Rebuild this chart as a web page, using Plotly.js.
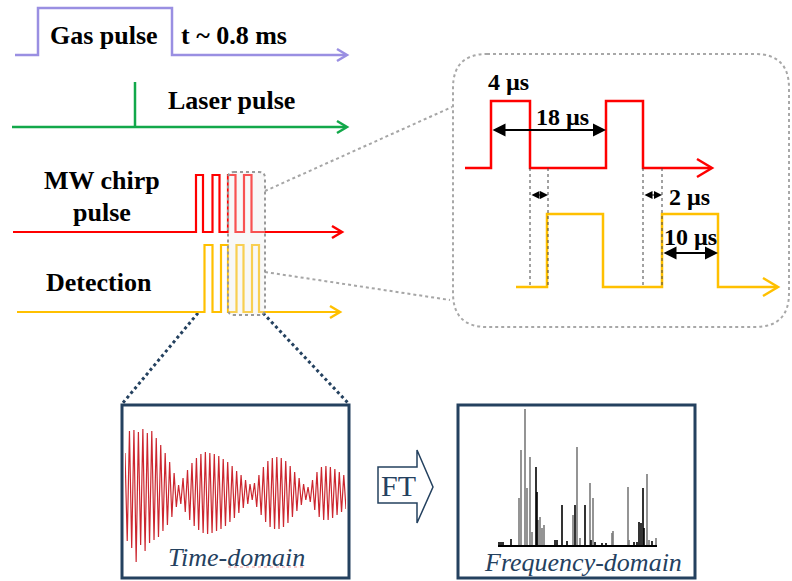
<!DOCTYPE html>
<html>
<head>
<meta charset="utf-8">
<script src="https://cdn.plot.ly/plotly-3.0.1.min.js"></script>
<style>html,body{margin:0;padding:0;background:#fff;}#chart{width:792px;height:581px;}</style>
</head>
<body>
<div id="chart"></div>
<script>
// ---------- DATA ----------
// Pulse-sequence schematic (schematic coordinates, x to the right, y downward)
const gasX = [15, 38, 38, 172, 172, 345];
const gasY = [55, 55, 8, 8, 55, 55];
const laserX = [12, 345];
const laserY = [127, 127];
const laserSpikeX = [135, 135];
const laserSpikeY = [127, 82];
const chirpX = [13, 196, 196, 203, 203, 212.5, 212.5, 219.5, 219.5, 228, 228, 235.5, 235.5, 244, 244, 251.5, 251.5, 340];
const chirpY = [232, 232, 175, 175, 232, 232, 175, 175, 232, 232, 175, 175, 232, 232, 175, 175, 232, 232];
const detX = [17, 204.5, 204.5, 212.5, 212.5, 221, 221, 228, 228, 236.5, 236.5, 243.5, 243.5, 252, 252, 259, 259, 338];
const detY = [312, 312, 245, 245, 312, 312, 245, 245, 312, 312, 245, 245, 312, 312, 245, 245, 312, 312];
// zoomed inset
const insetChirpX = [465, 491, 491, 530, 530, 606, 606, 643, 643, 710];
const insetChirpY = [168, 168, 101, 101, 168, 168, 101, 101, 168, 168];
const insetDetX = [516, 547, 547, 603, 603, 662, 662, 718, 718, 776];
const insetDetY = [287, 287, 214, 214, 287, 287, 214, 214, 287, 287];
const guideX = [530, 548, 643, 662];
const guideTop = 168, guideBottom = 287;
// arrow tips of the time axes
const mainTipsX = [347, 347, 342, 340];
const mainTipsY = [55, 127, 232, 312];
const insetTipsX = [712, 778];
const insetTipsY = [168, 287];

// Time-domain FID (signed amplitude at successive half-cycle peaks)
const fidAmp = [40,-48,62,-55,63,-69,61,-52,64,-58,60,-50,62,-47,55,-44,48,-38,40,-32,31,-24,20,-14,
  8,-11,15,-19,23,-27,30,-33,35,-37,39,-40,41,-41,40,-40,39,-38,37,-36,34,-33,31,-29,27,-25,22,-20,18,-15,13,-11,9,-7,
  10,-14,18,-22,26,-29,32,-34,35,-36,36,-36,35,-34,32,-30,27,-24,21,-18,15,-12,9,-7,6,
  -9,13,-17,21,-24,26,-27,27,-27,26,-25,24,-22,21,-19,18,-16];

// Frequency-domain spectrum (relative frequency, intensity)
const lightFreq = [21, 23, 27, 29, 32, 34, 40, 42, 44, 46, 75, 79, 82, 92, 95, 114, 115, 130, 131, 149, 151, 158];
const lightInt  = [47, 95, 136, 57, 88, 13, 25, 28, 17, 20, 30, 98, 7, 62, 47, 12, 14, 58, 5, 71, 5, 7];
const darkFreq = [1, 3, 5, 13, 38, 39, 57, 59, 64, 69, 77, 87, 93, 97, 104, 108, 136, 139, 141, 143, 145, 146, 154];
const darkInt  = [3, 3, 3, 6, 78, 53, 5, 5, 40, 4, 40, 40, 5, 3, 2, 2, 3, 3, 23, 22, 57, 17, 4];

// ---------- STYLES ----------
const PURPLE = '#9a8fe2', GREEN = '#12a84a', RED = '#ff0000', GOLD = '#ffc000';
const NAVY = '#24415f', GREY = '#a6a6a6';
const SERIF = 'Liberation Serif, Times New Roman, serif';

function ln(x, y, color, width, dash, xa, ya) {
  return {type: 'scatter', mode: 'lines', x: x, y: y, xaxis: xa || 'x', yaxis: ya || 'y',
    line: {color: color, width: width, dash: dash || 'solid', shape: 'linear'},
    hoverinfo: 'skip', showlegend: false, cliponaxis: false};
}
function chevron(tx, ty, dx, dy, color, width) {
  return ln([tx - dx, tx, tx - dx], [ty - dy, ty, ty + dy], color, width);
}

const traces = [];
// connectors (dotted grey) from small box to inset
traces.push(ln([265, 452], [191, 107], GREY, 2, 'dot'));
traces.push(ln([265, 450], [272, 300], GREY, 2, 'dot'));
// navy dotted to time-domain box
traces.push(ln([198, 122], [313, 404], NAVY, 3, 'dot'));
traces.push(ln([263, 349], [313, 404], NAVY, 3, 'dot'));

traces.push(ln(gasX, gasY, PURPLE, 2.5));
traces.push(ln(laserX, laserY, GREEN, 2.5));
traces.push(ln(laserSpikeX, laserSpikeY, GREEN, 2.5));
traces.push(ln(chirpX, chirpY, RED, 2.2));
traces.push(ln(detX, detY, GOLD, 2.2));
const mainColors = [PURPLE, GREEN, RED, GOLD];
for (let i = 0; i < mainTipsX.length; i++) traces.push(chevron(mainTipsX[i], mainTipsY[i], 10, 6, mainColors[i], 2.5));

traces.push(ln(insetChirpX, insetChirpY, RED, 2.5));
traces.push(ln(insetDetX, insetDetY, GOLD, 2.5));
traces.push(chevron(insetTipsX[0], insetTipsY[0], 15, 9, RED, 2.5));
traces.push(chevron(insetTipsX[1], insetTipsY[1], 15, 9, GOLD, 2.5));
for (const gx of guideX) traces.push(ln([gx, gx], [guideTop, guideBottom], '#444', 1, 'dot'));

// FID
traces.push({type: 'scatter', mode: 'lines', y: fidAmp, xaxis: 'x2', yaxis: 'y2',
  line: {color: 'rgba(195,0,10,0.85)', width: 1.2}, hoverinfo: 'skip', showlegend: false});
// spectrum
traces.push({type: 'bar', x: lightFreq, y: lightInt, xaxis: 'x3', yaxis: 'y3', width: 1.6, opacity: 1,
  marker: {color: '#7a7a7a', opacity: 1, line: {width: 0}}, hoverinfo: 'skip', showlegend: false});
traces.push({type: 'bar', x: darkFreq, y: darkInt, xaxis: 'x3', yaxis: 'y3', width: 1.6, opacity: 1,
  marker: {color: '#000000', opacity: 1, line: {width: 0}}, hoverinfo: 'skip', showlegend: false});

function txt(x, y, t, size, extra) {
  return Object.assign({x: x, y: y, xref: 'x', yref: 'y', text: t, showarrow: false,
    font: {family: SERIF, size: size, color: '#000'}, xanchor: 'center', yanchor: 'middle'}, extra || {});
}
function dbl(x0, x1, y, w, s) {
  return {x: x1, y: y, ax: x0, ay: y, xref: 'x', yref: 'y', axref: 'x', ayref: 'y', text: '',
    showarrow: true, arrowside: 'end+start', arrowhead: 2, arrowsize: s, arrowwidth: w, arrowcolor: '#000',
    standoff: 0, startstandoff: 0};
}

const annotations = [
  txt(104, 35, '<b>Gas pulse</b>', 26),
  txt(234, 35, '<b>t ~ 0.8 ms</b>', 26),
  txt(231, 100, '<b>Laser pulse</b>', 26),
  txt(102, 180, '<b>MW chirp</b>', 26),
  txt(102, 212, '<b>pulse</b>', 26),
  txt(99, 282, '<b>Detection</b>', 26),
  txt(508, 82, '<b>4 µs</b>', 24),
  txt(562, 117, '<b>18 µs</b>', 24),
  txt(689, 197, '<b>2 µs</b>', 24),
  txt(690, 237, '<b>10 µs</b>', 24),
  txt(236, 557, '<i>Time-domain</i>', 26, {font: {family: SERIF, size: 26, color: NAVY}}),
  txt(583, 562, '<i>Frequency-domain</i>', 26, {font: {family: SERIF, size: 26, color: NAVY}}),
  txt(398, 485, 'FT', 30, {font: {family: SERIF, size: 30, color: NAVY}}),
  dbl(491, 606, 130, 2, 1.3),
  dbl(662, 718, 253, 2, 1.3),
  dbl(530, 548, 195, 1, 1.6),
  dbl(643, 662, 195, 1, 1.6)
];

function rrect(x0, y0, x1, y1, r) {
  return `M${x0 + r},${y0} L${x1 - r},${y0} Q${x1},${y0} ${x1},${y0 + r} L${x1},${y1 - r} Q${x1},${y1} ${x1 - r},${y1} L${x0 + r},${y1} Q${x0},${y1} ${x0},${y1 - r} L${x0},${y0 + r} Q${x0},${y0} ${x0 + r},${y0} Z`;
}

const shapes = [
  {type: 'path', xref: 'x', yref: 'y', path: rrect(228, 172, 265, 315, 6), line: {color: '#9a9a9a', width: 2, dash: 'dot'}, fillcolor: 'rgba(235,235,235,0.35)', layer: 'above'},
  {type: 'path', xref: 'x', yref: 'y', path: rrect(453, 54, 789, 327, 34), line: {color: '#a8a8a8', width: 2, dash: 'dot'}, fillcolor: 'rgba(0,0,0,0)', layer: 'below'},
  {type: 'rect', xref: 'x', yref: 'y', x0: 122, y0: 405, x1: 349, y1: 578, line: {color: NAVY, width: 3}, fillcolor: 'rgba(0,0,0,0)', layer: 'above'},
  {type: 'rect', xref: 'x', yref: 'y', x0: 458, y0: 405, x1: 695, y1: 578, line: {color: NAVY, width: 3}, fillcolor: 'rgba(0,0,0,0)', layer: 'above'},
  {type: 'path', xref: 'x', yref: 'y', path: 'M378,467 L417,467 L417,450 L433,487 L417,523 L417,503 L378,503 Z', line: {color: NAVY, width: 1.5}, fillcolor: '#ffffff', layer: 'below'},
  {type: 'line', xref: 'x', yref: 'y', x0: 228, y0: 567, x1: 305, y1: 567, line: {color: 'rgba(230,90,90,0.6)', width: 1, dash: 'dot'}, layer: 'above'}
];

const hidden = {visible: false, showgrid: false, zeroline: false, fixedrange: true};
const layout = {
  width: 792, height: 581, margin: {l: 0, r: 0, t: 0, b: 0, pad: 0},
  paper_bgcolor: '#ffffff', plot_bgcolor: 'rgba(0,0,0,0)', showlegend: false, barmode: 'overlay',
  xaxis: Object.assign({range: [0, 792], domain: [0, 1]}, hidden),
  yaxis: Object.assign({range: [581, 0], domain: [0, 1]}, hidden),
  xaxis2: Object.assign({range: [0, fidAmp.length - 1], domain: [125 / 792, 346 / 792], anchor: 'y2'}, hidden),
  yaxis2: Object.assign({range: [-80, 80], domain: [(581 - 573) / 581, (581 - 413) / 581], anchor: 'x2'}, hidden),
  xaxis3: {range: [0, 159], domain: [498 / 792, 657 / 792], anchor: 'y3', visible: true, showline: true,
    linecolor: '#000', linewidth: 1.5, showgrid: false, zeroline: false, showticklabels: false, ticks: '', fixedrange: true},
  yaxis3: Object.assign({range: [0, 140], domain: [(581 - 545) / 581, (581 - 405) / 581], anchor: 'x3'}, hidden),
  annotations: annotations,
  shapes: shapes
};

Plotly.newPlot('chart', traces, layout, {staticPlot: true, displayModeBar: false});
</script>
</body>
</html>
